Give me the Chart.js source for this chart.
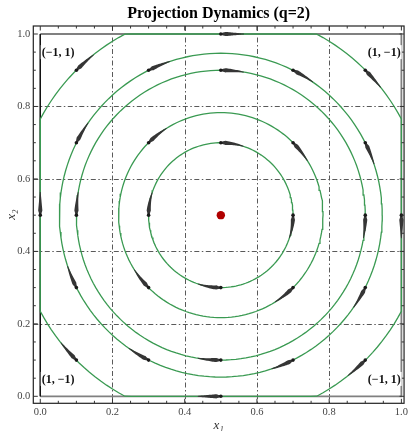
<!DOCTYPE html>
<html><head><meta charset="utf-8">
<script src="https://cdn.jsdelivr.net/npm/chart.js@4/dist/chart.umd.min.js"></script>
<style>html,body{margin:0;padding:0;background:#fff;}canvas{display:block;}</style>
</head><body>
<canvas id="c" width="411" height="431"></canvas>
<script>
// ---- data ----
const titleText = 'Projection Dynamics (q=2)';
const orbitRadii = [0.2, 0.283, 0.4, 0.447, 0.566];
const restPointX = [0.5];
const restPointY = [0.5];
const arrowStartX = [0.1,0.3,0.5,0.7,0.9, 0.1,0.3,0.5,0.7,0.9, 0.1,0.3,0.7,0.9, 0.1,0.3,0.5,0.7,0.9, 0.1,0.3,0.5,0.7,0.9, 0.5,0,0.5,1];
const arrowStartY = [0.1,0.1,0.1,0.1,0.1, 0.3,0.3,0.3,0.3,0.3, 0.5,0.5,0.5,0.5, 0.7,0.7,0.7,0.7,0.7, 0.9,0.9,0.9,0.9,0.9, 1,0.5,0,0.5];
const tickValues = [0, 0.2, 0.4, 0.6, 0.8, 1.0];
const minorTickValues = [0.05,0.1,0.15,0.25,0.3,0.35,0.45,0.5,0.55,0.65,0.7,0.75,0.85,0.9,0.95];
const gridValues = [0.2, 0.4, 0.6, 0.8];
const simplexX = [0, 1, 1, 0, 0];
const simplexY = [0, 0, 1, 1, 0];
const cornerLabels = ['(\u22121, 1)', '(1, \u22121)', '(1, \u22121)', '(\u22121, 1)']; // TL, TR, BL, BR
const xTitle = 'x\u2081';
const yTitle = 'x\u2082';

// ---- build library data ----
const clamp01 = v => Math.min(1, Math.max(0, v));
function orbitData(r) {
  const pts = [];
  for (let k = 0; k <= 180; k++) {
    const th = k / 180 * 2 * Math.PI;
    pts.push({x: clamp01(0.5 + r * Math.cos(th)), y: clamp01(0.5 + r * Math.sin(th))});
  }
  return pts;
}
const GREEN = '#3a9a52';
const datasets = [];
datasets.push({
  data: restPointX.map((x, i) => ({x, y: restPointY[i]})),
  showLine: false, pointRadius: 4.2, pointBackgroundColor: '#b00000', pointBorderWidth: 0
});
orbitRadii.forEach(r => datasets.push({
  data: orbitData(r), showLine: true, borderColor: GREEN, borderWidth: 1.3,
  pointRadius: 0, fill: false, tension: 0
}));
datasets.push({
  data: simplexX.map((x, i) => ({x, y: simplexY[i]})), showLine: true, pointRadius: 0,
  borderColor: '#808080', borderWidth: 1.8,
  segment: {
    borderColor: c => (c.p0.parsed.x === 0 && c.p1.parsed.x === 0) ? '#111' : '#808080',
    borderWidth: c => (c.p0.parsed.x === 0 && c.p1.parsed.x === 0) ? 1 : 1.8
  }
});

const serif = "'Liberation Serif', 'DejaVu Serif', serif";

const decor = {
  id: 'decor',
  beforeDatasetsDraw(chart) {
    const {ctx, chartArea: a, scales: {x, y}} = chart;
    ctx.save();
    ctx.strokeStyle = '#5a5a5a';
    ctx.lineWidth = 1;
    ctx.setLineDash([5, 2.5, 1.5, 2.5]);
    gridValues.forEach(v => {
      const px = Math.round(x.getPixelForValue(v)) + 0.5;
      ctx.beginPath(); ctx.moveTo(px, a.top); ctx.lineTo(px, a.bottom); ctx.stroke();
      const py = Math.round(y.getPixelForValue(v)) + 0.5;
      ctx.beginPath(); ctx.moveTo(a.left, py); ctx.lineTo(a.right, py); ctx.stroke();
    });
    ctx.restore();
  },
  afterDatasetsDraw(chart) {
    const {ctx, scales: {x, y}} = chart;
    const Rout = orbitRadii[orbitRadii.length - 1];
    const L = 0.064, n = 20;
    ctx.save();
    arrowStartX.forEach((x0, i) => {
      const y0 = arrowStartY[i];
      const onEdge = x0 === 0 || x0 === 1 || y0 === 0 || y0 === 1;
      const r = onEdge ? Rout : Math.hypot(x0 - 0.5, y0 - 0.5);
      const th0 = Math.atan2(y0 - 0.5, x0 - 0.5);
      const pts = [];
      for (let k = 0; k <= n; k++) {
        const th = th0 - (k / n) * L / r;
        pts.push([x.getPixelForValue(clamp01(0.5 + r * Math.cos(th))),
                  y.getPixelForValue(clamp01(0.5 + r * Math.sin(th)))]);
      }
      const left = [], right = [];
      for (let k = 0; k <= n; k++) {
        const p = pts[Math.max(0, k - 1)], q = pts[Math.min(n, k + 1)];
        let dx = q[0] - p[0], dy = q[1] - p[1];
        const len = Math.hypot(dx, dy) || 1; dx /= len; dy /= len;
        const t = k / n;
        const w = t < 0.2 ? 1.4 + 2.8 * (t / 0.2) : 4.2 - 3.4 * ((t - 0.2) / 0.8);
        left.push([pts[k][0] - dy * w / 2, pts[k][1] + dx * w / 2]);
        right.push([pts[k][0] + dy * w / 2, pts[k][1] - dx * w / 2]);
      }
      ctx.fillStyle = '#353535';
      ctx.beginPath();
      left.forEach((p, k) => k ? ctx.lineTo(p[0], p[1]) : ctx.moveTo(p[0], p[1]));
      for (let k = right.length - 1; k >= 0; k--) ctx.lineTo(right[k][0], right[k][1]);
      ctx.closePath(); ctx.fill();
      ctx.fillStyle = '#1a1a1a';
      ctx.beginPath(); ctx.arc(pts[0][0], pts[0][1], 1.8, 0, 2 * Math.PI); ctx.fill();
    });
    ctx.restore();
  },
  afterDraw(chart) {
    const {ctx, chartArea: a, scales: {x, y}} = chart;
    ctx.save();
    ctx.strokeStyle = '#222'; ctx.lineWidth = 1.2;
    ctx.strokeRect(a.left, a.top, a.right - a.left, a.bottom - a.top);
    ctx.lineWidth = 1; ctx.strokeStyle = '#333';
    const tick = (vals, len) => vals.forEach(v => {
      const px = x.getPixelForValue(v), py = y.getPixelForValue(v);
      ctx.beginPath();
      ctx.moveTo(px, a.bottom); ctx.lineTo(px, a.bottom - len);
      ctx.moveTo(px, a.top); ctx.lineTo(px, a.top + len);
      ctx.moveTo(a.left, py); ctx.lineTo(a.left + len, py);
      ctx.moveTo(a.right, py); ctx.lineTo(a.right - len, py);
      ctx.stroke();
    });
    tick(tickValues, 4.5);
    tick(minorTickValues, 2.5);
    ctx.font = 'bold 12px ' + serif;
    ctx.textBaseline = 'middle';
    const place = [
      [0.004, 0.950, 'left'], [0.998, 0.950, 'right'],
      [0.004, 0.048, 'left'], [0.998, 0.048, 'right']
    ];
    cornerLabels.forEach((txt, i) => {
      const [dx, dy, al] = place[i];
      const px = x.getPixelForValue(dx), py = y.getPixelForValue(dy);
      const w = ctx.measureText(txt).width;
      const x0 = al === 'left' ? px : px - w;
      ctx.fillStyle = '#fff';
      ctx.fillRect(x0 - 1, py - 7, w + 2, 14);
      ctx.fillStyle = '#111';
      ctx.textAlign = 'left';
      ctx.fillText(txt, x0, py + 0.5);
    });
    ctx.restore();
  }
};

new Chart(document.getElementById('c'), {
  type: 'scatter',
  data: {datasets},
  options: {
    responsive: false, animation: false, devicePixelRatio: 1,
    layout: {padding: {right: 5, left: 0, top: 0, bottom: 0}},
    plugins: {
      legend: {display: false}, tooltip: {enabled: false},
      title: {display: true, text: titleText, fullSize: false, color: '#000',
        font: {family: serif, size: 16, weight: 'bold', lineHeight: 1.2},
        padding: {top: 4, bottom: 2.8}}
    },
    scales: {
      x: {
        type: 'linear', min: -0.0193, max: 1.0074,
        afterBuildTicks: s => { s.ticks = tickValues.map(v => ({value: v})); },
        afterFit: s => { s.height = 27.7; },
        ticks: {callback: v => Number(v).toFixed(1), color: '#444', padding: 3,
          font: {family: serif, size: 10.5}, maxRotation: 0, autoSkip: false},
        grid: {display: false, drawTicks: false, tickLength: 0},
        border: {display: false},
        title: {display: true, text: xTitle, color: '#333', padding: 0,
          font: {family: serif, size: 13, style: 'italic', lineHeight: 0.8}}
      },
      y: {
        type: 'linear', min: -0.0193, max: 1.0221,
        afterBuildTicks: s => { s.ticks = tickValues.map(v => ({value: v})); },
        afterFit: s => { s.width = 33.3; },
        ticks: {callback: v => Number(v).toFixed(1), color: '#444', padding: 3,
          font: {family: serif, size: 10.5}, autoSkip: false},
        grid: {display: false, drawTicks: false, tickLength: 0},
        border: {display: false},
        title: {display: true, text: yTitle, color: '#333', padding: {top: 4, bottom: 0},
          font: {family: serif, size: 13, style: 'italic', lineHeight: 1.2}}
      }
    }
  },
  plugins: [decor]
});
</script>
</body></html>
